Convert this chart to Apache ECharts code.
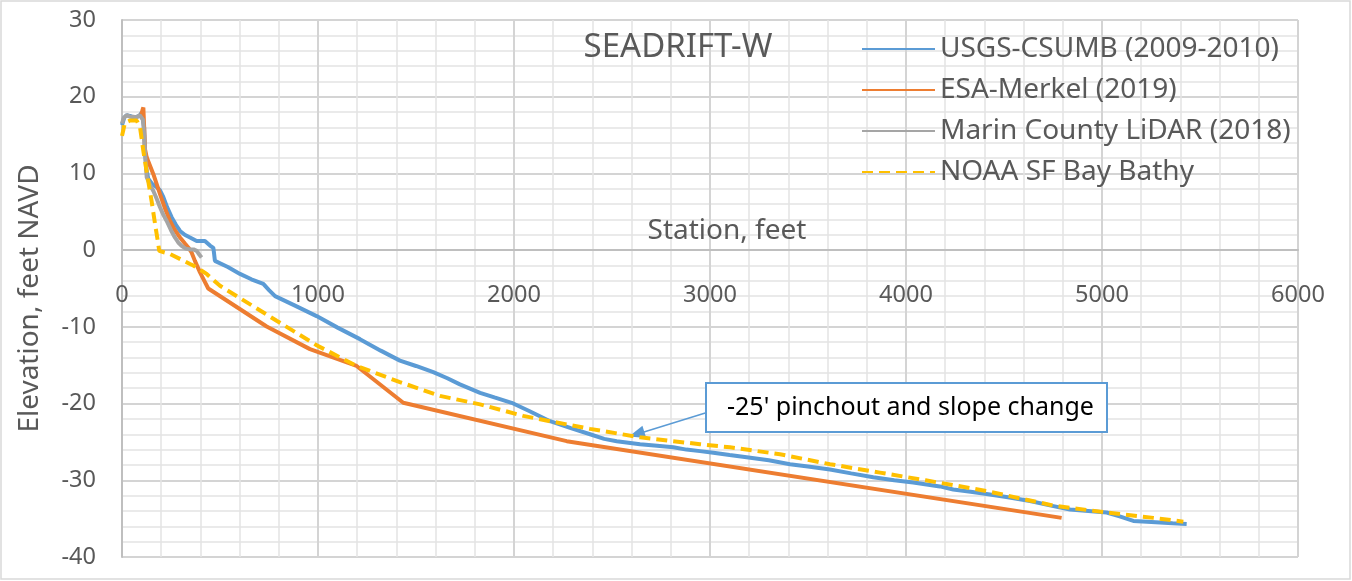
<!DOCTYPE html>
<html>
<head>
<meta charset="utf-8">
<script src="https://cdn.jsdelivr.net/npm/echarts@6/dist/echarts.min.js"></script>
<style>
html,body{margin:0;padding:0;background:#fff;}
#chart{width:1352px;height:581px;}
</style>
</head>
<body>
<div id="chart"></div>
<script>
// ---- data (station ft, elevation ft NAVD) ----
const seriesNames = ['USGS-CSUMB (2009-2010)', 'ESA-Merkel (2019)', 'Marin County LiDAR (2018)', 'NOAA SF Bay Bathy'];

const usgsData = [[0,16.3],[12,17.3],[24,17.6],[40,17.5],[58,17.3],[75,17.4],[90,17.5],[100,17.95],[109,18.2],[113,16],[117,12.9],[125,10.5],[134,9.3],[155,8.6],[177,8.2],[194,7.8],[211,6.9],[230,5.6],[253,4.3],[275,3.3],[296,2.5],[320,2.0],[347,1.65],[381,1.2],[400,1.2],[423,1.2],[432,1.0],[449,0.6],[466,0.3],[470,-0.5],[474,-1.4],[540,-2.2],[602,-3.1],[660,-3.8],[721,-4.4],[750,-5.2],[781,-6.0],[880,-7.2],[993,-8.6],[1100,-10.1],[1214,-11.6],[1320,-13.1],[1418,-14.4],[1500,-15.1],[1588,-15.9],[1660,-16.7],[1724,-17.5],[1827,-18.6],[1900,-19.2],[1988,-19.9],[2080,-21.0],[2184,-22.3],[2290,-23.2],[2388,-24.0],[2460,-24.6],[2524,-24.9],[2643,-25.3],[2730,-25.5],[2813,-25.7],[2880,-26.0],[2949,-26.2],[3017,-26.4],[3100,-26.7],[3187,-27.0],[3300,-27.4],[3408,-27.9],[3500,-28.2],[3612,-28.6],[3720,-29.1],[3833,-29.6],[3940,-30.0],[4037,-30.3],[4173,-30.8],[4241,-31.2],[4330,-31.5],[4411,-31.8],[4520,-32.2],[4633,-32.7],[4740,-33.3],[4837,-33.8],[4930,-34.0],[5024,-34.2],[5090,-34.7],[5160,-35.3],[5230,-35.4],[5296,-35.5],[5360,-35.6],[5432,-35.7]];

const esaData = [[98,17.6],[105,18.3],[109,18.6],[113,16],[117,13.2],[126,12.1],[140,11.2],[160,9.9],[194,7.3],[220,5.4],[245,3.8],[270,2.6],[296,1.65],[320,0.9],[338,0.35],[355,-0.3],[372,-1.4],[398,-2.9],[420,-4.0],[440,-5.0],[738,-9.95],[959,-12.9],[1197,-15.1],[1435,-19.9],[2269,-24.9],[4794,-34.9]];

const lidarData = [[0,16.5],[8,17.2],[24,17.6],[40,17.4],[58,17.4],[75,17.3],[90,17.6],[100,17.7],[107,17.0],[113,15],[117,12.9],[126,9.5],[143,8.5],[160,7.7],[177,6.7],[194,5.6],[211,4.6],[228,3.8],[250,2.6],[270,1.65],[287,1.0],[304,0.56],[325,0.2],[347,0.1],[365,0.1],[381,-0.1],[395,-0.6],[406,-0.95]];

const noaaData = [[0,14.9],[8,15.8],[15,16.6],[41,16.9],[75,16.9],[85,16.7],[92,16.0],[100,14.6],[109,12.9],[130,9.6],[151,6.4],[170,3.2],[185,0.8],[190,-0.1],[245,-0.5],[300,-1.2],[347,-1.8],[364,-2.0],[432,-3.1],[500,-4.65],[789,-9.2],[993,-12.4],[1197,-15.1],[1418,-17.2],[1622,-19.0],[1827,-20.1],[2047,-21.6],[2184,-22.3],[2388,-23.3],[2643,-24.4],[2949,-25.3],[3102,-25.7],[3357,-26.6],[3612,-27.9],[3867,-29.0],[4100,-30.0],[4411,-31.4],[4752,-33.3],[5024,-34.2],[5262,-34.9],[5415,-35.4]];

const annotationText = "-25' pinchout and slope change";
const arrowFrom = [2980, -21.2];
const arrowTo = [2626, -24.0];

// ---- chart ----
const FONT = 'Noto Sans';
const TXT = '#595959';
const chart = echarts.init(document.getElementById('chart'), null, {renderer: 'canvas'});

const colors = ['#5B9BD5', '#ED7D31', '#A5A5A5', '#FFC000'];
const datasets = [usgsData, esaData, lidarData, noaaData];

const series = datasets.map((d, i) => ({
  name: seriesNames[i],
  type: 'line',
  data: d,
  symbol: 'none',
  showSymbol: false,
  animation: false,
  z: 3 + i,
  lineStyle: {
    color: colors[i],
    width: 4,
    type: i === 3 ? [11, 6] : 'solid'
  },
  itemStyle: {color: colors[i]}
}));

series[0].markLine = {
  silent: true,
  symbol: ['none', 'triangle'],
  symbolSize: [13, 16],
  label: {show: false},
  lineStyle: {color: '#5B9BD5', width: 1.5, type: 'solid'},
  data: [[{coord: arrowFrom}, {coord: arrowTo}]]
};

// grid geometry
const GRID = {left: 122, right: 54, top: 20, bottom: 24};
const Y_MIN = -40, Y_MAX = 30;
const plotH = 581 - GRID.top - GRID.bottom;
const zeroOffset = -plotH * (0 - Y_MIN) / (Y_MAX - Y_MIN); // moves x axis up to y = 0

chart.setOption({
  backgroundColor: '#ffffff',
  animation: false,
  grid: Object.assign({containLabel: false, outerBoundsMode: 'none'}, GRID),
  legend: {
    orient: 'vertical',
    left: 856,
    top: 29,
    itemWidth: 73,
    itemHeight: 14,
    itemGap: 11,
    data: seriesNames,
    itemStyle: {opacity: 0, borderWidth: 0},
    textStyle: {fontFamily: FONT, fontSize: 28, color: TXT, lineHeight: 30},
    selectedMode: false
  },
  xAxis: {
    type: 'value',
    min: 0, max: 6000, interval: 1000,
    position: 'bottom',
    offset: zeroOffset,
    name: 'Station, feet',
    nameLocation: 'middle',
    nameGap: -33,
    nameMoveOverlap: false,
    nameTextStyle: {fontFamily: FONT, fontSize: 28, color: TXT, padding: [0, 0, 0, 34]},
    axisLine: {onZero: false, lineStyle: {color: '#bfbfbf', width: 2}},
    axisTick: {show: false},
    axisLabel: {fontFamily: FONT, fontSize: 23.5, color: TXT, margin: 33,
                formatter: function (v) { return String(v); }},
    splitLine: {show: true, lineStyle: {color: '#d4d4d4', width: 2}},
    minorTick: {show: true, splitNumber: 5, length: 0, lineStyle: {width: 0}},
    minorSplitLine: {show: true, lineStyle: {color: '#e4e4e4', width: 1.5}}
  },
  yAxis: {
    type: 'value',
    min: Y_MIN, max: Y_MAX, interval: 10,
    name: 'Elevation, feet NAVD',
    nameLocation: 'middle',
    nameGap: 78,
    nameRotate: 90,
    nameMoveOverlap: false,
    nameTextStyle: {fontFamily: FONT, fontSize: 28, color: TXT, padding: [0, 20, 0, 0]},
    axisLine: {show: true, onZero: false, lineStyle: {color: '#bfbfbf', width: 2}},
    axisTick: {show: false},
    axisLabel: {fontFamily: FONT, fontSize: 23.5, color: TXT, margin: 26,
                formatter: function (v) { return String(v); }},
    splitLine: {show: true, lineStyle: {color: '#d4d4d4', width: 2}},
    minorTick: {show: true, splitNumber: 5, length: 0, lineStyle: {width: 0}},
    minorSplitLine: {show: true, lineStyle: {color: '#e4e4e4', width: 1.5}}
  },
  graphic: [
    {type: 'rect', z: -10, silent: true,
     shape: {x: 1, y: 1, width: 1349, height: 578},
     style: {fill: 'none', stroke: '#d9d9d9', lineWidth: 1.5}},
    {type: 'text', z: 10, silent: true, x: 678, y: 48,
     style: {text: 'SEADRIFT-W', fontFamily: FONT, fontSize: 33, fill: TXT,
             textAlign: 'center', textVerticalAlign: 'middle'}},
    {type: 'rect', z: 10, silent: true,
     shape: {x: 706, y: 383, width: 401, height: 49},
     style: {fill: '#ffffff', stroke: '#5B9BD5', lineWidth: 2}},
    {type: 'text', z: 11, silent: true, x: 727, y: 408,
     style: {text: annotationText, fontFamily: FONT, fontSize: 25, fill: '#000000',
             textAlign: 'left', textVerticalAlign: 'middle'}}
  ],
  series: series
});
</script>
</body>
</html>
